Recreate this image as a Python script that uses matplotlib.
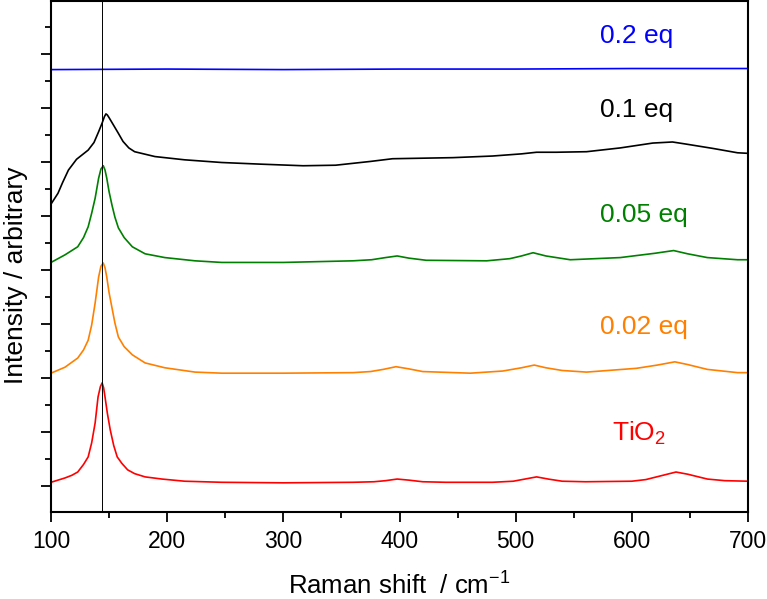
import matplotlib
matplotlib.use("Agg")
import matplotlib.pyplot as plt
from matplotlib.ticker import MultipleLocator

plt.rcParams['font.family'] = ['Liberation Sans', 'DejaVu Sans']
plt.rcParams['mathtext.fontset'] = 'custom'
plt.rcParams['mathtext.rm'] = 'Liberation Sans'
plt.rcParams['mathtext.it'] = 'Liberation Sans:italic'

# spectra (y in offset arbitrary units, one major tick = 1)
x_tio2 = [100, 112, 118, 123, 128, 132, 135, 138, 140.5, 142.5, 144, 145.3, 146.5, 148.5, 151, 154, 157, 161,
          166, 172, 181, 195.5, 215, 247, 300, 360, 378, 388, 398, 408, 420, 440, 480, 498, 508, 518, 528, 540, 560,
          600, 612, 625, 638, 648, 665, 680, 700]
y_tio2 = [0.07, 0.15, 0.20, 0.26, 0.40, 0.54, 0.80, 1.17, 1.65, 1.84, 1.91, 1.82, 1.65, 1.35, 1.04, 0.75, 0.54, 0.42,
          0.30, 0.23, 0.17, 0.13, 0.09, 0.07, 0.06, 0.07, 0.08, 0.10, 0.13, 0.11, 0.08, 0.07, 0.07, 0.09, 0.13, 0.17, 0.13, 0.09, 0.08,
          0.09, 0.12, 0.19, 0.26, 0.22, 0.13, 0.10, 0.09]

x_002 = [100, 112, 123, 128, 132, 135, 138, 141, 143, 145, 146.5, 148, 150, 152.5, 155, 158, 163, 170,
         181, 198, 224, 247, 300, 360, 375, 386, 397, 408, 420, 461, 489, 505, 516, 526, 540, 561, 604, 622, 637, 648,
         665, 691, 700]
y_002 = [2.09, 2.20, 2.37, 2.52, 2.70, 2.98, 3.39, 3.87, 4.07, 4.13, 4.04, 3.87, 3.58, 3.30, 3.02, 2.76, 2.58, 2.43,
         2.28, 2.19, 2.11, 2.09, 2.09, 2.10, 2.12, 2.16, 2.21, 2.17, 2.12, 2.09, 2.13, 2.19, 2.24, 2.19, 2.14, 2.11, 2.18, 2.24, 2.30, 2.25,
         2.16, 2.10, 2.10]

x_005 = [100, 112, 123, 128, 132, 135, 138, 141, 143, 145, 146.5, 148, 150, 152.5, 155, 158, 163, 170,
         181, 198, 224, 247, 300, 360, 376, 388, 398, 408, 423, 475, 495, 505, 515, 526, 547, 590, 620, 636, 648,
         665, 691, 700]
y_005 = [4.14, 4.28, 4.43, 4.60, 4.80, 5.05, 5.33, 5.70, 5.87, 5.93, 5.85, 5.70, 5.45, 5.20, 4.98, 4.78, 4.60, 4.43,
         4.30, 4.23, 4.17, 4.14, 4.14, 4.17, 4.19, 4.23, 4.26, 4.22, 4.18, 4.17, 4.21, 4.26, 4.32, 4.26, 4.19, 4.23, 4.31, 4.36, 4.30,
         4.23, 4.19, 4.19]

x_01 = [100, 106, 110, 115, 122, 132, 137, 141, 144, 146, 147.3, 148.5, 150, 153.6, 158, 162, 167, 172,
        189.5, 215, 247, 280, 317, 345, 375, 394, 420, 446, 480, 505, 518, 535, 561, 590, 618, 635, 647, 670, 691, 700]
y_01 = [5.22, 5.42, 5.62, 5.85, 6.05, 6.22, 6.36, 6.56, 6.72, 6.84, 6.89, 6.87, 6.82, 6.69, 6.53, 6.38, 6.26, 6.19,
        6.10, 6.04, 5.99, 5.96, 5.93, 5.94, 6.01, 6.06, 6.07, 6.08, 6.11, 6.15, 6.18, 6.18, 6.19, 6.26, 6.35, 6.37, 6.33, 6.25, 6.17, 6.16]

x_02 = [100, 200, 300, 400, 500, 600, 700]
y_02 = [7.71, 7.72, 7.71, 7.72, 7.72, 7.73, 7.73]

series = [
    (x_tio2, y_tio2, '#FF0000', 'TiO$_2$', 583, 0.83),
    (x_002, y_002, '#FF8000', '0.02 eq', 573, 2.81),
    (x_005, y_005, '#008000', '0.05 eq', 573, 4.89),
    (x_01, y_01, '#000000', '0.1 eq', 573, 6.83),
    (x_02, y_02, '#0000FF', '0.2 eq', 573, 8.20),
]

fig = plt.figure(figsize=(7.67, 5.99), dpi=100)
ax = fig.add_axes([51 / 767, 1 - 512 / 599, 697 / 767, 511 / 599])

for xs, ys, col, lab, tx, ty in series:
    ax.plot(xs, ys, color=col, lw=1.2)
    ax.text(tx, ty, lab, color=col, fontsize=19, ha='left', va='baseline')

ax.axvline(144, color='black', lw=0.7)

ax.set_xlim(100, 700)
ax.set_ylim(-0.48, 8.98)
ax.xaxis.set_major_locator(MultipleLocator(100))
ax.xaxis.set_minor_locator(MultipleLocator(50))
ax.yaxis.set_major_locator(MultipleLocator(1))
ax.yaxis.set_minor_locator(MultipleLocator(0.5))
ax.tick_params(which='major', length=7, width=1.3, labelsize=16.5, direction='out', pad=6)
ax.tick_params(which='minor', length=4, width=1.3, direction='out')
ax.tick_params(axis='y', which='both', labelleft=False)
for sp in ax.spines.values():
    sp.set_linewidth(1.5)

ax.set_xlabel('Raman shift  / cm$^{-1}$', fontsize=18.5, va='baseline')
ax.xaxis.set_label_coords(0.5, (512 - 595) / 511)
ax.set_ylabel('Intensity / arbitrary', fontsize=19, va='baseline')
ax.yaxis.set_label_coords((23 - 51) / 697, (512 - 275) / 511)

fig.savefig('out.png', dpi=100)
